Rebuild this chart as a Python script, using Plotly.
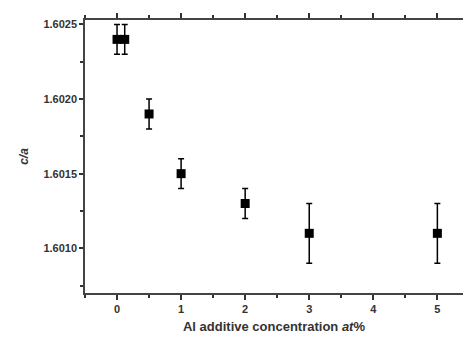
import plotly.graph_objects as go

conc = [0, 0.12, 0.5, 1, 2, 3, 5]
ca = [1.6024, 1.6024, 1.6019, 1.6015, 1.6013, 1.6011, 1.6011]
err = [0.0001, 0.0001, 0.0001, 0.0001, 0.0001, 0.0002, 0.0002]
xticks = [0, 1, 2, 3, 4, 5]
yticks = [1.6010, 1.6015, 1.6020, 1.6025]

fig = go.Figure()
fig.add_trace(go.Scatter(
    x=conc, y=ca, mode="markers",
    marker=dict(symbol="square", size=9, color="black"),
    error_y=dict(type="data", array=err, color="black", thickness=1.5, width=3),
    showlegend=False,
))

xr = [-0.5, 5.4]
fam = "Liberation Sans, Arial"
fig.update_layout(
    width=463, height=338,
    margin=dict(l=85, r=0, t=20, b=45),
    paper_bgcolor="white", plot_bgcolor="white",
    xaxis=dict(range=xr, tickvals=xticks, ticktext=["<b>%d</b>" % v for v in xticks],
               ticks="outside", ticklen=5, tickwidth=1.5, tickcolor="#333",
               showline=True, linecolor="#444", linewidth=1.5, mirror="allticks",
               showgrid=False, zeroline=False,
               minor=dict(dtick=0.5, tick0=0, ticks="outside", ticklen=3, tickcolor="#333"),
               tickfont=dict(family=fam, size=11, color="#333"),
               title=dict(text="<b>Al additive concentration <i>at</i>%</b>",
                          font=dict(family=fam, size=13, color="#333"),
                          standoff=8)),
    yaxis=dict(range=[1.6007, 1.60253], tickvals=yticks,
               ticktext=["<b>%.4f</b>" % v for v in yticks],
               ticks="outside", ticklen=4, tickwidth=1.5, tickcolor="#333",
               showline=True, linecolor="#444", linewidth=1.5,
               showgrid=False, zeroline=False,
               minor=dict(dtick=0.00025, tick0=1.6010, ticks="outside", ticklen=3, tickcolor="#333"),
               tickfont=dict(family=fam, size=11, color="#333"),
               title=dict(text="<b><i>c/a</i></b>",
                          font=dict(family=fam, size=12, color="#333"),
                          standoff=12)),
)
fig.write_html("out.html")
